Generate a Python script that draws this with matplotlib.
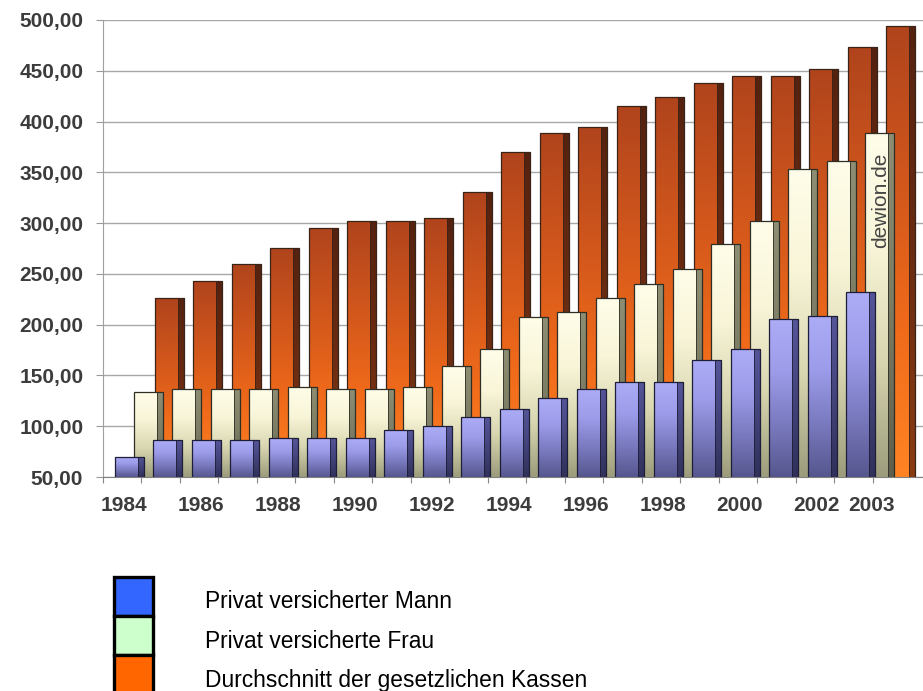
import numpy as np
import matplotlib
matplotlib.use("Agg")
import matplotlib.pyplot as plt
from matplotlib.colors import LinearSegmentedColormap
from matplotlib.patches import Rectangle

# ---------------- data ----------------
years = list(range(1984, 2004))
mann = [70, 86, 86, 86, 88, 88, 88, 96, 100, 109, 117, 128, 137, 144, 144, 165, 176, 206, 209, 232]
frau = [134, 137, 137, 137, 139, 137, 137, 139, 159, 176, 208, 212, 226, 240, 255, 279, 302, 353, 361, 389]
kassen = [226, 243, 260, 275, 295, 302, 302, 305, 331, 370, 389, 395, 415, 424, 438, 445, 445, 452, 473, 494]
yticks = [50, 100, 150, 200, 250, 300, 350, 400, 450, 500]
legend_labels = ["Privat versicherter Mann", "Privat versicherte Frau", "Durchschnitt der gesetzlichen Kassen"]
legend_colors = ["#3366ff", "#ccffcc", "#ff6600"]

W, H = 923, 691
fig = plt.figure(figsize=(W / 100, H / 100), dpi=100)
ax = fig.add_axes([102.7 / W, 1 - 477 / H, 1 - 102.7 / W, (477 - 20) / H])

n = len(years)
YMIN, YMAX = 50, 500


def cmap(cols):
    return LinearSegmentedColormap.from_list("c", cols)


grad = np.linspace(0, 1, 256).reshape(-1, 1)


def draw_row(vals, offset, fw, sw, fcols, scols, edge, z):
    x = np.arange(len(vals)) + offset
    front = ax.bar(x, vals, width=fw, align="edge", color="none", edgecolor="none", zorder=z)
    side = ax.bar(x + fw, vals, width=sw, align="edge", color="none", edgecolor="none", zorder=z)
    for bars, cols in ((front, fcols), (side, scols)):
        cm = cmap(cols)
        for p in bars:
            x0, w, top = p.get_x(), p.get_width(), p.get_height()
            im = ax.imshow(grad, extent=(x0, x0 + w, YMIN, top), origin="lower",
                           aspect="auto", cmap=cm, zorder=z + 0.1, interpolation="bilinear")
            im.set_clip_path(p)
    ax.bar(x, vals, width=fw + sw, align="edge", fill=False, edgecolor=edge,
           linewidth=0.9, zorder=z + 0.2)
    ax.bar(x + fw, vals, width=0, align="edge", fill=False, edgecolor=edge,
           linewidth=0.6, zorder=z + 0.2)


FW, SW = 0.60, 0.16
# back row: statutory average (orange)
draw_row(kassen, 1.35, FW, SW,
         ["#ff8424", "#f06a1a", "#d0561c", "#b0441c"],
         ["#8a3c12", "#6a2c12", "#552210"], "#3a2418", 2)
# middle row: women (cream)
draw_row(frau, 0.80, FW, SW,
         ["#9c9c7c", "#d8d6b0", "#f8f5d8", "#fffde9"],
         ["#5e5e4c", "#7c7c64", "#8e8e74"], "#2e2e24", 3)
# front row: men (blue)
draw_row(mann, 0.31, FW, SW,
         ["#56568e", "#7a7ac0", "#9c9cea", "#acacf6"],
         ["#30305a", "#44447c", "#55559a"], "#1e1e38", 4)

ax.set_xlim(0, (W - 102.7) / 38.5)
ax.set_ylim(YMIN, YMAX)

# gridlines
ax.set_yticks(yticks)
ax.set_yticklabels([f"{v:.2f}".replace(".", ",") for v in yticks])
ax.yaxis.grid(True, color="#a8a8a8", linewidth=1.0, zorder=0)
ax.set_axisbelow(True)

# x ticks at category boundaries, labels as minor ticks
ax.set_xticks(np.arange(0, n + 1))
ax.set_xticklabels([])
lab_pos, lab_txt = [], []
for i, yr in enumerate(years):
    if i % 2 == 0:
        lab_pos.append(i + 0.55)
        lab_txt.append(str(yr))
lab_pos.append(n - 0.02)
lab_txt.append(str(years[-1]))
ax.set_xticks(lab_pos, minor=True)
ax.set_xticklabels(lab_txt, minor=True)

ax.tick_params(axis="x", which="major", length=4, color="#888888", direction="out")
ax.tick_params(axis="x", which="minor", length=0, pad=14)
ax.tick_params(axis="y", length=5, color="#999999", pad=9)
for lbl in ax.get_yticklabels() + ax.get_xticklabels(minor=True):
    lbl.set_fontfamily("Liberation Sans")
    lbl.set_fontweight("bold")
    lbl.set_fontsize(15)
    lbl.set_color("#3c3c3c")

for s in ("top", "right"):
    ax.spines[s].set_visible(False)
ax.spines["left"].set_color("#a0a0a0")
ax.spines["bottom"].set_color("#808080")
ax.spines["left"].set_zorder(1)

# watermark
ax.text(20.2, 322, "dewion.de", rotation=90, ha="center", va="center",
        fontsize=15, color="#444444", family="Liberation Sans", zorder=10)

# legend drawn in figure coordinates
sq_x, sq_w, sq_h, sq_top = 114, 39, 39, 577
for k, (lab, col) in enumerate(zip(legend_labels, legend_colors)):
    y0 = sq_top + k * sq_h
    fig.patches.append(Rectangle((sq_x / W, 1 - (y0 + sq_h) / H), sq_w / W, sq_h / H,
                                 transform=fig.transFigure, facecolor=col,
                                 edgecolor="black", linewidth=2.4, zorder=5))
    fig.text(205 / W, 1 - (y0 + 25) / H, lab, ha="left", va="center",
             fontsize=16.4, family="Liberation Sans", color="black")

fig.savefig("out.png", dpi=100)
